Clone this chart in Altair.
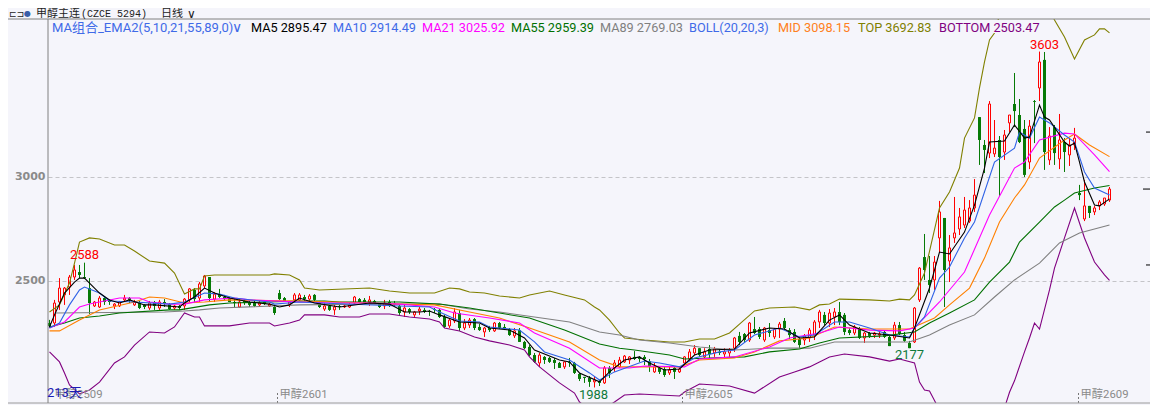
import altair as alt
import pandas as pd

BG = "#f5f5fb"
RED = "#ff0000"
GREEN = "#067a06"
CJK = "Roboto, Noto Sans CJK SC"

opens = [
 2298,2298,2399,2433,2471,2519,2543,2519,2466,2380,
 2375,2418,2409,2380,2380,2409,2418,2385,2394,2385,
 2370,2399,2370,2399,2389,2370,2380,2380,2409,2457,
 2418,2476,2519,2413,2437,2423,2418,2399,2375,2404,
 2399,2394,2385,2399,2380,2375,2442,2418,2389,2409,
 2409,2423,2413,2433,2394,2365,2380,2361,2380,2375,
 2375,2394,2413,2409,2399,2404,2389,2380,2399,2394,
 2380,2351,2365,2337,2356,2361,2356,2365,2361,2327,
 2284,2308,2346,2274,2288,2317,2279,2255,2274,2260,
 2298,2279,2269,2236,2264,2207,2183,2144,2106,2135,
 2130,2120,2106,2087,2111,2106,2053,2039,2034,2015,
 2019,2010,2082,2082,2087,2111,2120,2135,2135,2135,
 2115,2063,2082,2077,2058,2082,2063,2106,2125,2154,
 2177,2135,2173,2154,2159,2149,2154,2177,2236,2245,
 2216,2269,2269,2216,2264,2231,2269,2308,2264,2255,
 2221,2216,2226,2240,2303,2337,2298,2327,2351,2337,
 2264,2250,2274,2226,2250,2240,2240,2255,2231,2226,
 2288,2240,2202,2207,2409,2615,2505,2505,2707,2803,
 2596,2707,2750,2769,2788,2851,3288,3154,3115,3111,
 3178,3120,3260,3351,3298,3231,3072,3365,3428,3563,
 3082,3240,3087,3168,3106,3154,2923,2798,2861,2832,
 2861,2870,2889]
closes = [
 2284,2394,2466,2466,2519,2553,2529,2514,2394,2399,
 2418,2399,2399,2389,2399,2418,2409,2399,2370,2375,
 2394,2380,2399,2389,2365,2380,2370,2413,2462,2413,
 2486,2524,2418,2437,2423,2413,2399,2394,2399,2394,
 2385,2380,2394,2389,2389,2346,2413,2404,2399,2433,
 2433,2413,2428,2409,2375,2380,2361,2375,2375,2380,
 2385,2423,2399,2394,2409,2394,2375,2394,2380,2385,
 2346,2370,2351,2351,2365,2351,2351,2361,2327,2279,
 2312,2351,2274,2298,2312,2274,2264,2274,2264,2298,
 2274,2274,2240,2260,2207,2177,2144,2111,2144,2120,
 2111,2106,2082,2111,2106,2058,2029,2034,2015,2024,
 2010,2082,2058,2106,2120,2139,2135,2125,2125,2125,
 2087,2087,2063,2048,2072,2063,2077,2135,2159,2177,
 2144,2159,2149,2173,2154,2159,2168,2226,2207,2216,
 2298,2250,2231,2274,2250,2269,2293,2274,2240,2207,
 2192,2236,2264,2303,2351,2298,2346,2351,2303,2255,
 2250,2279,2226,2250,2236,2250,2245,2231,2187,2288,
 2245,2212,2177,2370,2562,2553,2481,2591,2832,2553,
 2659,2731,2808,2841,2851,2913,3178,3130,3351,3139,
 3096,3202,3298,3317,3168,3010,3245,3361,3553,3120,
 3197,3115,3178,3120,3154,3187,2913,2861,2827,2851,
 2880,2899,2942]
highs = [
 2313,2409,2514,2471,2529,2577,2577,2588,2514,2404,
 2428,2423,2413,2394,2404,2433,2423,2409,2404,2389,
 2404,2404,2409,2413,2394,2385,2385,2418,2466,2466,
 2495,2529,2519,2447,2462,2433,2423,2413,2413,2413,
 2404,2409,2404,2404,2394,2385,2457,2423,2404,2442,
 2442,2433,2437,2437,2404,2394,2394,2385,2389,2389,
 2394,2428,2418,2418,2428,2409,2394,2409,2409,2404,
 2389,2385,2370,2356,2375,2370,2361,2370,2365,2337,
 2322,2370,2361,2317,2322,2322,2293,2279,2284,2303,
 2303,2293,2274,2274,2274,2212,2192,2154,2154,2139,
 2135,2130,2111,2115,2130,2111,2058,2039,2043,2043,
 2024,2091,2091,2120,2135,2144,2139,2163,2139,2144,
 2125,2106,2087,2087,2091,2087,2087,2139,2173,2192,
 2177,2177,2192,2183,2173,2177,2177,2231,2255,2250,
 2303,2327,2279,2279,2298,2274,2303,2322,2274,2269,
 2231,2245,2274,2312,2361,2351,2365,2370,2399,2346,
 2274,2288,2279,2255,2255,2255,2255,2260,2240,2303,
 2303,2255,2212,2375,2567,2726,2620,2620,2885,2803,
 2721,2904,2851,2904,2889,2990,3288,3178,3365,3274,
 3197,3226,3298,3500,3375,3274,3274,3370,3603,3601,
 3240,3250,3303,3187,3187,3236,2962,2986,2861,2861,
 2889,2899,2952]
lows = [
 2274,2279,2361,2385,2433,2505,2514,2510,2341,2375,
 2370,2385,2385,2365,2375,2399,2394,2380,2365,2365,
 2361,2361,2361,2375,2361,2361,2361,2361,2399,2394,
 2399,2466,2399,2399,2418,2409,2399,2370,2370,2385,
 2375,2375,2375,2385,2375,2337,2409,2399,2375,2404,
 2404,2404,2399,2404,2370,2356,2356,2337,2361,2370,
 2370,2389,2394,2389,2380,2389,2370,2365,2375,2380,
 2337,2327,2341,2322,2337,2346,2332,2346,2322,2274,
 2274,2298,2260,2264,2274,2264,2260,2231,2255,2255,
 2269,2264,2236,2226,2207,2173,2139,2106,2087,2101,
 2106,2077,2082,2077,2087,2053,2019,2010,1991,1988,
 1995,2005,2034,2063,2082,2106,2101,2120,2111,2096,
 2063,2058,2053,2039,2048,2029,2058,2096,2115,2144,
 2135,2130,2130,2135,2144,2125,2135,2159,2192,2207,
 2207,2245,2221,2207,2231,2221,2226,2264,2221,2202,
 2177,2192,2207,2216,2274,2288,2279,2288,2288,2240,
 2240,2240,2221,2202,2226,2226,2226,2226,2187,2216,
 2240,2207,2177,2202,2399,2505,2442,2457,2639,2375,
 2495,2683,2721,2755,2779,2832,3058,3019,3091,3096,
 2909,3082,3216,3240,3163,3000,3038,3163,3365,3034,
 3058,3058,3038,3024,3053,3130,2889,2788,2803,2817,
 2841,2861,2880]

ma5_bars = [0,1,3,5,6,7,8,10,12,14,16,19,21,26,27,29,31,33,36,40,44,46,48,50,53,58,64,68,71,74,76,78,82,86,88,92,95,97,102,104,106,110,112,115,118,120,123,126,129,132,137,140,144,147,150,153,156,158,160,164,168,172,173,176,178,180,183,185,187,188,191,193,195,196,198,199,200,203,204,205,206,207,209,210,212]
ma5_vals = [2279,2337,2442,2495,2514,2514,2490,2442,2409,2394,2409,2385,2385,2375,2394,2423,2466,2442,2418,2399,2389,2375,2385,2418,2394,2375,2394,2389,2351,2351,2356,2337,2303,2298,2274,2264,2226,2168,2120,2111,2058,2015,2063,2120,2135,2106,2072,2077,2144,2168,2173,2250,2274,2269,2226,2231,2312,2337,2288,2250,2240,2226,2274,2466,2639,2630,2735,2865,3043,3168,3173,3250,3187,3192,3346,3288,3274,3168,3149,3163,3072,2976,2865,2861,2895]
ma10_bars = [0,2,4,6,7,10,12,17,24,27,31,34,37,44,45,50,54,70,76,78,82,86,88,94,97,99,104,108,110,113,119,122,126,129,134,137,141,146,150,153,157,160,164,168,172,173,175,178,180,183,185,189,193,194,196,198,200,203,205,207,209,212]
ma10_vals = [2274,2298,2385,2457,2471,2442,2404,2399,2389,2399,2442,2437,2418,2399,2389,2399,2394,2380,2375,2351,2308,2303,2279,2264,2207,2159,2120,2058,2024,2063,2115,2106,2087,2130,2159,2168,2240,2274,2231,2240,2303,2303,2274,2240,2231,2274,2327,2514,2567,2707,2784,3072,3139,3216,3187,3288,3260,3202,3168,3024,2947,2914]
ma21_bars = [0,3,6,8,10,14,18,20,24,27,31,37,40,50,57,64,70,77,81,88,94,97,104,110,116,119,127,130,137,144,148,154,158,164,170,173,178,183,188,193,195,198,203,205,209,212]
ma21_vals = [2274,2303,2375,2389,2399,2418,2418,2399,2389,2389,2409,2418,2409,2399,2394,2394,2389,2375,2346,2322,2298,2250,2177,2082,2082,2091,2087,2125,2135,2183,2226,2250,2279,2264,2260,2274,2399,2543,2817,3043,3072,3178,3211,3207,3106,3026]
ma55_bars = [0,3,6,10,14,24,26,32,36,44,50,55,58,70,78,84,90,96,103,110,114,117,124,127,132,139,144,150,154,158,167,173,176,180,185,188,192,194,198,201,203,205,209,212]
ma55_vals = [2279,2298,2322,2332,2346,2361,2361,2385,2394,2399,2404,2404,2399,2399,2389,2370,2346,2322,2264,2197,2177,2168,2144,2125,2130,2135,2159,2173,2202,2226,2236,2255,2298,2346,2409,2495,2591,2687,2783,2856,2889,2923,2947,2959]
ma89_bars = [1,23,27,30,34,50,63,78,84,90,97,104,110,114,118,124,130,137,144,152,157,164,172,176,180,185,189,193,198,202,206,212]
ma89_vals = [2346,2351,2356,2361,2370,2385,2389,2389,2365,2351,2327,2303,2255,2240,2216,2202,2183,2168,2177,2177,2207,2207,2207,2240,2288,2337,2423,2505,2586,2683,2731,2769]
mid_bars = [0,2,6,10,17,20,23,27,31,36,50,64,70,77,84,90,96,104,110,114,126,130,137,141,146,152,157,164,172,177,180,184,187,190,193,195,198,203,205,208,212]
mid_vals = [2260,2260,2312,2361,2399,2423,2418,2394,2399,2409,2404,2394,2389,2385,2351,2322,2274,2207,2120,2087,2087,2120,2130,2159,2212,2226,2279,2269,2269,2322,2385,2466,2610,2784,2899,2962,3091,3178,3207,3154,3098]
top_bars = [0,2,4,5,6,8,10,13,15,17,20,23,25,27,29,30,31,33,44,45,48,50,51,54,64,68,72,77,80,82,84,87,90,94,96,100,103,107,109,110,112,114,115,119,124,127,130,133,136,138,141,144,149,152,154,156,158,164,168,170,172,173,175,178,180,182,183,185,186,187,188,189,190,194,198,201,203,205,207,209,210,211,212]
top_vals = [2351,2385,2490,2586,2687,2707,2702,2673,2673,2644,2596,2586,2538,2437,2462,2462,2524,2529,2529,2534,2529,2505,2466,2457,2466,2452,2442,2442,2466,2462,2447,2442,2428,2418,2433,2452,2433,2409,2375,2361,2312,2250,2226,2216,2207,2207,2221,2221,2250,2293,2356,2370,2375,2361,2385,2389,2413,2409,2404,2413,2409,2433,2538,2851,2928,3043,3187,3284,3428,3553,3659,3692,3779,3947,3899,3755,3673,3567,3659,3683,3712,3712,3693]
bottom_bars = [0,2,3,4,6,8,10,13,15,17,20,23,25,27,29,30,31,36,40,44,45,48,50,51,55,58,62,64,68,72,76,78,79,82,85,88,92,95,96,98,102,105,106,108,110,113,115,118,126,127,130,136,141,146,149,152,156,159,164,168,170,173,174,175,176,177,178,184,190,191,192,193,195,196,197,198,200,201,203,205,207,209,211,212]
bottom_vals = [2159,2111,2058,2000,1957,1976,2014,2106,2135,2192,2255,2250,2279,2346,2327,2327,2284,2284,2298,2298,2284,2298,2312,2337,2337,2327,2327,2341,2341,2327,2317,2303,2274,2260,2231,2212,2192,2168,2135,2087,2010,1961,1918,1880,1870,1918,1952,1957,1947,1966,2005,1995,1961,2038,2062,2087,2135,2149,2135,2115,2125,2106,2014,1976,1971,1925,1880,1800,1830,1890,1965,2020,2159,2226,2298,2269,2457,2562,2707,2851,2707,2591,2529,2503]

line_series = [
    ("TOP", top_bars, top_vals, "#808000"),
    ("BOTTOM", bottom_bars, bottom_vals, "#800080"),
    ("MA89", ma89_bars, ma89_vals, "#808080"),
    ("MA55", ma55_bars, ma55_vals, "#007000"),
    ("MID", mid_bars, mid_vals, "#ff8000"),
    ("MA21", ma21_bars, ma21_vals, "#ff00ff"),
    ("MA10", ma10_bars, ma10_vals, "#2f62e6"),
    ("MA5", ma5_bars, ma5_vals, "#000000"),
]

legend_texts = ["MA组合_EMA2(5,10,21,55,89,0)", "MA5 2895.47", "MA10 2914.49", "MA21 3025.92",
                "MA55 2959.39", "MA89 2769.03", "BOLL(20,20,3)", "MID 3098.15", "TOP 3692.83",
                "BOTTOM 2503.47"]
legend_colors = ["#3f6ae8", "#000000", "#3f6ae8", "#ff00ff", "#007000", "#808080", "#3f6ae8",
                 "#ff8020", "#808000", "#800080"]
legend_lefts = [52, 251, 333, 422, 511, 600, 689, 778, 858, 939]
legend_sizes = [13, 12.7, 12.7, 12.7, 12.7, 12.7, 12.7, 12.7, 12.7, 12.7]

extreme_bars = [7, 198, 109, 172]
extreme_prices = [2588, 3603, 1988, 2177]
extreme_colors = [RED, RED, "#0f7a3c", "#0f7a3c"]
extreme_dx = [0, 5, -1, 0]
extreme_dy = [-8, -7, 8, 7]

contract_names = ["甲醇2509", "甲醇2601", "甲醇2605", "甲醇2609"]
contract_bars = [0.6, 45.6, 126.6, 205.8]
marker_prices = [3216, 2942, 2577]
marker_lefts = [1098, 1095, 1098]

PLOT_W = 1102
xscale = alt.Scale(domain=[-0.3, 220.1], nice=False, zero=False, padding=0)
yscale = alt.Scale(domain=[1913.4, 3759.6], nice=False, zero=False)
yaxis = alt.Axis(values=[2500, 3000], grid=True, gridDash=[4, 3], gridColor="#c4c4c8", gridWidth=1,
                 ticks=False, domain=False, labelColor="#8a8a8a", labelFont="DejaVu Sans", title=None,
                 labelFontSize=11, labelPadding=3, labelFontWeight="bold", format="d")
X = lambda f: alt.X(f, type="quantitative", scale=xscale, axis=None)
Y = lambda f: alt.Y(f, type="quantitative", scale=yscale, axis=yaxis)

candles = pd.DataFrame({"bar": range(len(opens)), "open": opens, "close": closes, "high": highs, "low": lows})
candles["up"] = candles["close"] >= candles["open"]
up_df = candles[candles["up"]]
down_df = candles[~candles["up"]]

layers = []

# candles
layers.append(alt.Chart(down_df).mark_rule(color=GREEN, strokeWidth=1).encode(x=X("bar"), y=Y("high"), y2="low"))
layers.append(alt.Chart(up_df).mark_rule(color=RED, strokeWidth=1).encode(x=X("bar"), y=Y("high"), y2="low"))
layers.append(alt.Chart(down_df).mark_bar(color=GREEN, size=3).encode(x=X("bar"), y=Y("open"), y2="close"))
layers.append(alt.Chart(up_df).mark_bar(fill=BG, stroke=RED, strokeWidth=1, size=2).encode(x=X("bar"), y=Y("open"), y2="close"))

# indicator lines
for name, bars, vals, col in line_series:
    df = pd.DataFrame({"bar": bars, "val": vals})
    layers.append(alt.Chart(df).mark_line(color=col, strokeWidth=1.1, clip=True).encode(x=X("bar"), y=Y("val")))

one = pd.DataFrame({"a": [0]})

def label(text, left, top, color, size=12, font=CJK, **kw):
    return alt.Chart(one).mark_text(text=text, align="left", baseline="middle", color=color,
                                    fontSize=size, font=font, **kw).encode(
        x=alt.value(left), y=alt.value(top))

def hline(x1, x2, y, color):
    return alt.Chart(one).mark_rule(color=color, strokeWidth=1).encode(
        x=alt.value(x1), x2=alt.value(x2), y=alt.value(y))

# mask behind the indicator legend row
layers.append(alt.Chart(one).mark_rect(color=BG).encode(
    x=alt.value(1), x2=alt.value(964), y=alt.value(1), y2=alt.value(14)))

# right-hand price markers
for p, left in zip(marker_prices, marker_lefts):
    layers.append(alt.Chart(pd.DataFrame({"p": [p]})).mark_rule(color="#000000", strokeWidth=1).encode(
        x=alt.value(left), x2=alt.value(PLOT_W), y=Y("p")))

# extreme price labels
for b, p, c, dx, dy in zip(extreme_bars, extreme_prices, extreme_colors, extreme_dx, extreme_dy):
    layers.append(alt.Chart(pd.DataFrame({"bar": [b], "p": [p]})).mark_text(
        text=str(p), color=c, fontSize=13, font="Roboto", dx=dx, dy=dy, baseline="middle").encode(
        x=X("bar"), y=Y("p")))

# contract labels and ticks
for i, (nm, b) in enumerate(zip(contract_names, contract_bars)):
    df = pd.DataFrame({"bar": [b]})
    layers.append(alt.Chart(df).mark_text(text=nm, color="#8a8a8a", fontSize=11.3, font=CJK, align="left",
                                          baseline="middle", dx=2).encode(x=X("bar"), y=alt.value(376)))
    if i > 0:
        layers.append(alt.Chart(df).mark_rule(color="#777777", strokeWidth=1, strokeDash=[2, 2]).encode(
            x=X("bar"), y=alt.value(374), y2=alt.value(384)))

# frame
layers.append(hline(-40, PLOT_W, 0, "#808080"))
layers.append(hline(-40, PLOT_W, 384, "#9a9a9a"))
layers.append(alt.Chart(one).mark_rule(color="#808080", strokeWidth=1).encode(
    x=alt.value(0), y=alt.value(0), y2=alt.value(384)))

# day counter
layers.append(label("213天", -1, 374, "#1c1cb4", size=13))

# indicator legend
for t, c, left, s in zip(legend_texts, legend_colors, legend_lefts, legend_sizes):
    layers.append(label(t, left - 48, 9, c, size=s))
layers.append(label("∨", 184, 9, "#3f6ae8", size=14, font="DejaVu Sans"))

# title row: kept just inside the page margin
TITLE_Y = -5.5
layers.append(label("⊏⊐", -39, TITLE_Y, "#222222", size=9, font="DejaVu Sans"))
layers.append(label("●", -24, TITLE_Y, "#3a5ea8", size=8, font="DejaVu Sans"))
layers.append(label("甲醇主连", -12, TITLE_Y, "#222222", size=11, font="Noto Sans CJK SC"))
layers.append(label("(CZCE 5294)", 33, TITLE_Y, "#222222", size=10, font="Liberation Mono"))
layers.append(label("日线", 113, TITLE_Y, "#222222", size=11, font="Noto Sans CJK SC"))
layers.append(label("∨", 139, TITLE_Y, "#222222", size=12, font="DejaVu Sans"))

chart = alt.layer(*layers).properties(
    width=PLOT_W, height=384,
    padding={"left": 40, "top": 11, "right": 0, "bottom": 2},
    autosize="none",
    background=BG,
).configure_view(stroke=None)

chart.save("out.html", embed_options={"renderer": "svg", "actions": False})
